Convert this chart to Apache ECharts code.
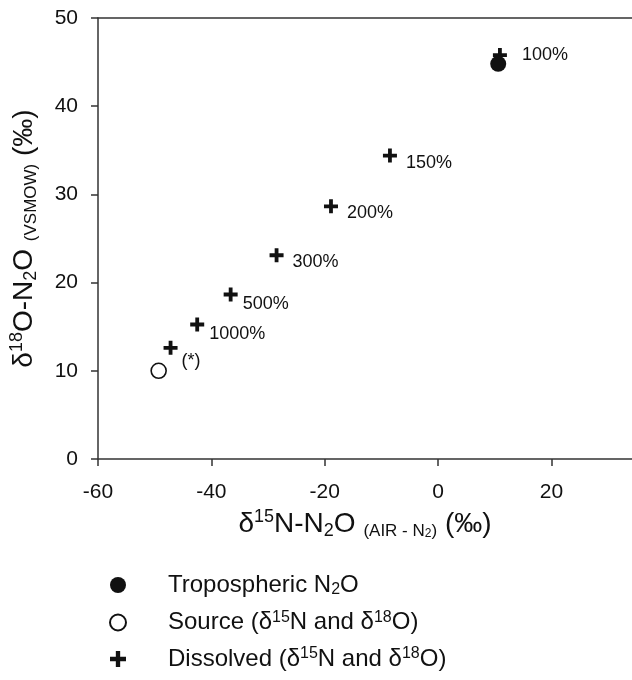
<!DOCTYPE html>
<html>
<head>
<meta charset="utf-8">
<script src="https://cdn.jsdelivr.net/npm/echarts@6/dist/echarts.min.js"></script>
<style>
  html, body { margin: 0; padding: 0; background: #fff; }
  #chart { width: 632px; height: 680px; }
</style>
</head>
<body>
<div id="chart"></div>
<script>
// values
var tropoN = [10.6];
var tropoO = [44.8];
var sourceN = [-49.3];
var sourceO = [10.0];
var dissolvedN = [10.9, -8.5, -18.9, -28.5, -36.6, -42.5, -47.2];
var dissolvedO = [45.8, 34.4, 28.65, 23.1, 18.65, 15.25, 12.6];
var dissolvedLabels = ['100%', '150%', '200%', '300%', '500%', '1000%', '(*)'];
var xTicks = [-60, -40, -20, 0, 20];
var yTicks = [0, 10, 20, 30, 40, 50];

// label nudges (style only)
var labelShift = [[10, 0], [4, 7], [4, 7], [4, 7], [0, 10], [0, 10], [-1, 13]];

var FONT = '"Liberation Sans", Arial, sans-serif';
var INK = '#111';
var AXIS = '#333';
var PLUS = 'path://M5.1,0H8.9V5.1H14V8.9H8.9V14H5.1V8.9H0V5.1H5.1Z';

function pairs(xs, ys) {
	var out = [];
	for (var i = 0; i < xs.length; i++) out.push([xs[i], ys[i]]);
	return out;
}

var chart = echarts.init(document.getElementById('chart'));

var titleRich = {
	m:   { fontFamily: FONT, fontSize: 28, lineHeight: 32, color: INK, verticalAlign: 'middle' },
	sup: { fontFamily: FONT, fontSize: 18, lineHeight: 18, color: INK, verticalAlign: 'top' },
	sub: { fontFamily: FONT, fontSize: 18, lineHeight: 18, color: INK, verticalAlign: 'bottom' },
	s:   { fontFamily: FONT, fontSize: 17, lineHeight: 23, color: INK, verticalAlign: 'bottom' },
	ss:  { fontFamily: FONT, fontSize: 12, lineHeight: 13, color: INK, verticalAlign: 'bottom' }
};

var legendText = {
	'Tropospheric': '{g| }{a|Tropospheric N}{sb|2}{a|O}',
	'Source': '{g| }{a|Source (δ}{sp|15}{a|N and δ}{sp|18}{a|O)}',
	'Dissolved': '{g| }{a|Dissolved (δ}{sp|15}{a|N and δ}{sp|18}{a|O)}'
};

var option = {
	animation: false,
	backgroundColor: '#fff',
	grid: { left: 96, right: 0, top: 18, bottom: 221, containLabel: false },
	xAxis: [{
		type: 'value',
		min: -60,
		max: 34.2,
		interval: 20,
		name: '{m|δ}{sup|15}{m|N-N}{sub|2}{m|O }{s|(AIR - N}{ss|2}{s|)}{m| (‰)}',
		nameLocation: 'middle',
		nameGap: 48,
		nameTextStyle: { rich: titleRich },
		axisLine: { onZero: false, lineStyle: { color: AXIS, width: 1.5 } },
		axisTick: { length: 7, lineStyle: { color: AXIS, width: 1.5 } },
		axisLabel: {
			margin: 23, fontFamily: FONT, fontSize: 21, color: INK,
			showMaxLabel: false,
			formatter: function (v) { return xTicks.indexOf(v) >= 0 ? String(v) : ''; }
		},
		splitLine: { show: false }
	}, {
		type: 'value',
		position: 'top',
		min: -60,
		max: 34.2,
		axisLine: { show: true, onZero: false, lineStyle: { color: AXIS, width: 1.5 } },
		axisTick: { show: false },
		axisLabel: { show: false },
		splitLine: { show: false }
	}],
	yAxis: {
		type: 'value',
		min: 0,
		max: 50,
		interval: 10,
		name: '{m|δ}{sup|18}{m|O-N}{sub|2}{m|O }{s|(VSMOW)}{m| (‰)}',
		nameLocation: 'middle',
		nameRotate: 90,
		nameGap: 58,
		nameTextStyle: { rich: titleRich },
		axisLine: { show: true, onZero: false, lineStyle: { color: AXIS, width: 1.5 } },
		axisTick: { show: true, length: 7, lineStyle: { color: AXIS, width: 1.5 } },
		axisLabel: {
			margin: 20, fontFamily: FONT, fontSize: 21, color: INK,
			formatter: function (v) { return yTicks.indexOf(v) >= 0 ? String(v) : ''; }
		},
		splitLine: { show: false }
	},
	legend: {
		orient: 'vertical',
		left: 104,
		top: 568,
		itemWidth: 16,
		itemHeight: 16,
		itemGap: 11.5,
		data: ['Tropospheric', 'Source', 'Dissolved'],
		formatter: function (name) { return legendText[name]; },
		textStyle: {
			rich: {
				g:  { width: 37, fontSize: 10 },
				a:  { fontFamily: FONT, fontSize: 24, lineHeight: 26, color: INK, verticalAlign: 'middle' },
				sp: { fontFamily: FONT, fontSize: 16, lineHeight: 13, color: INK, verticalAlign: 'top' },
				sb: { fontFamily: FONT, fontSize: 16, lineHeight: 14, color: INK, verticalAlign: 'bottom' }
			}
		}
	},
	series: [{
		name: 'Dissolved',
		type: 'scatter',
		symbol: PLUS,
		symbolSize: 14,
		itemStyle: { color: INK, opacity: 1 },
		label: {
			show: true,
			position: 'right',
			fontFamily: FONT,
			fontSize: 18,
			color: INK,
			formatter: function (p) { return dissolvedLabels[p.dataIndex]; }
		},
		data: pairs(dissolvedN, dissolvedO).map(function (d, i) {
			return { value: d, label: { offset: labelShift[i] } };
		})
	}, {
		name: 'Source',
		type: 'scatter',
		symbol: 'circle',
		symbolSize: 15,
		itemStyle: { color: '#fff', borderColor: INK, borderWidth: 1.6, opacity: 1 },
		data: pairs(sourceN, sourceO)
	}, {
		name: 'Tropospheric',
		type: 'scatter',
		symbol: 'circle',
		symbolSize: 16,
		itemStyle: { color: INK, opacity: 1 },
		data: pairs(tropoN, tropoO)
	}]
};

chart.setOption(option);
</script>
</body>
</html>
